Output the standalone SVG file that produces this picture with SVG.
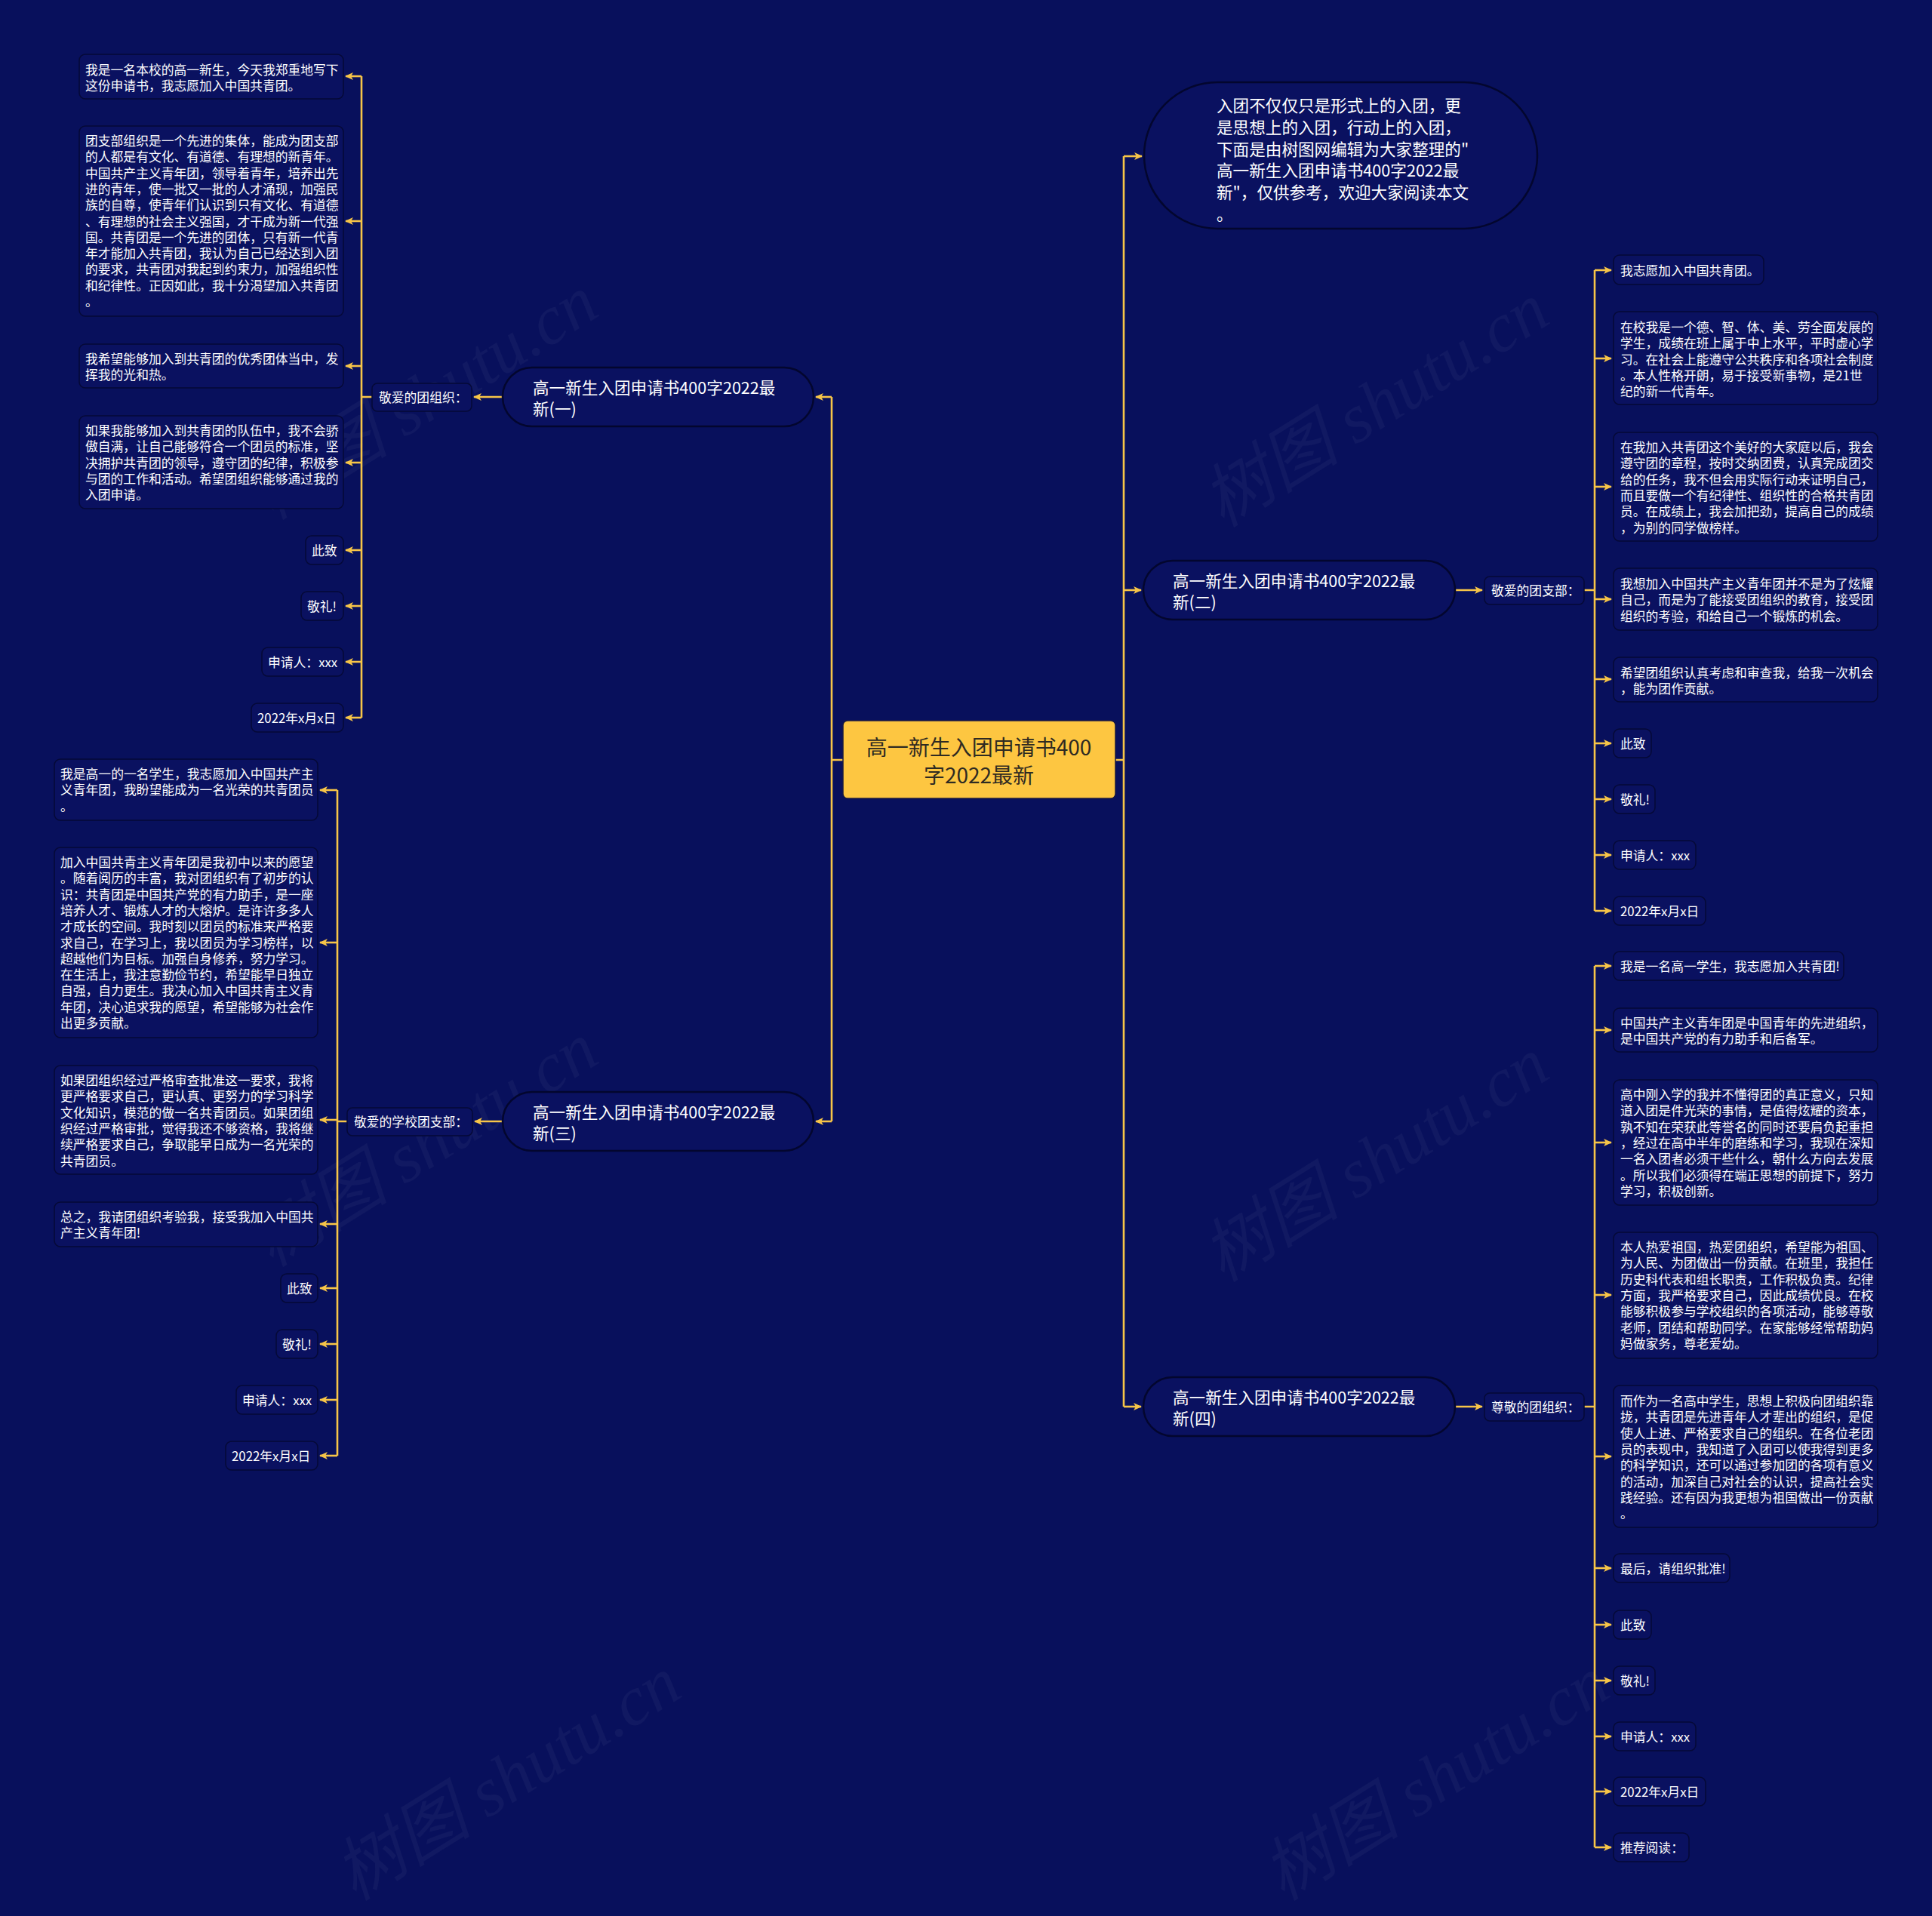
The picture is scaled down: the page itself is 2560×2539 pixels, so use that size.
<svg xmlns="http://www.w3.org/2000/svg" width="2560" height="2539" viewBox="0 0 2560 2539">
<defs>
<marker id="arr" viewBox="0 0 10 10" refX="9" refY="5" markerWidth="11" markerHeight="11" markerUnits="userSpaceOnUse" orient="auto"><path d="M0,0.5 L10,5 L0,9.5 L2.5,5 z" fill="#f7c548"/></marker>
<style>
text{font-family:"Noto Sans CJK SC","Microsoft YaHei",sans-serif;dominant-baseline:central;}
.bx{fill:#0a1160;stroke:#050936;stroke-width:1.5;}
.pill{fill:#0a1160;stroke:#03062e;stroke-width:2.5;}
.t{font-size:16.8px;fill:#ffffff;}
.tp{font-size:21.6px;fill:#ffffff;}
.tc{font-size:28px;fill:#2e2a22;text-anchor:middle;}
.ln{fill:none;stroke:#f7c548;stroke-width:2.6;}
.a{marker-end:url(#arr);}
.wm{font-family:"Liberation Serif","Noto Sans CJK SC",serif;font-size:92px;font-style:italic;fill:#ffffff;fill-opacity:0.04;dominant-baseline:auto;}
</style>
</defs>
<rect x="0" y="0" width="2560" height="2539" fill="#08105c"/>
<g id="watermarks">
<text class="wm" transform="translate(360,690) rotate(-32)">树图 shutu.cn</text>
<text class="wm" transform="translate(1620,700) rotate(-32)">树图 shutu.cn</text>
<text class="wm" transform="translate(360,1680) rotate(-32)">树图 shutu.cn</text>
<text class="wm" transform="translate(1620,1700) rotate(-32)">树图 shutu.cn</text>
<text class="wm" transform="translate(470,2520) rotate(-32)">树图 shutu.cn</text>
<text class="wm" transform="translate(1700,2520) rotate(-32)">树图 shutu.cn</text>
</g>
<g id="connectors">
<path class="ln" d="M1117,1007 H1102 M1102,526 V1486 M1478,1007 H1489 M1489,207 V1864"/>
<path class="ln a" d="M1102,526 H1081"/>
<path class="ln a" d="M1102,1486 H1081"/>
<path class="ln a" d="M1489,207 H1513"/>
<path class="ln a" d="M1489,782 H1512"/>
<path class="ln a" d="M1489,1864 H1512"/>
<path class="ln a" d="M666,526 H628"/>
<path class="ln" d="M493,526 H479 M479,101 V951"/>
<path class="ln a" d="M479,101 H458"/>
<path class="ln a" d="M479,293 H458"/>
<path class="ln a" d="M479,485 H458"/>
<path class="ln a" d="M479,613 H458"/>
<path class="ln a" d="M479,729 H458"/>
<path class="ln a" d="M479,803 H458"/>
<path class="ln a" d="M479,877 H458"/>
<path class="ln a" d="M479,951 H458"/>
<path class="ln a" d="M666,1486 H629"/>
<path class="ln" d="M460,1486 H447 M447,1047 V1929"/>
<path class="ln a" d="M447,1047 H424"/>
<path class="ln a" d="M447,1249 H424"/>
<path class="ln a" d="M447,1484 H424"/>
<path class="ln a" d="M447,1622 H424"/>
<path class="ln a" d="M447,1707 H424"/>
<path class="ln a" d="M447,1781 H424"/>
<path class="ln a" d="M447,1855 H424"/>
<path class="ln a" d="M447,1929 H424"/>
<path class="ln a" d="M1928,782 H1964"/>
<path class="ln" d="M2099,782 H2113 M2113,358 V1207"/>
<path class="ln a" d="M2113,358 H2135"/>
<path class="ln a" d="M2113,475 H2135"/>
<path class="ln a" d="M2113,645 H2135"/>
<path class="ln a" d="M2113,794 H2135"/>
<path class="ln a" d="M2113,900 H2135"/>
<path class="ln a" d="M2113,985 H2135"/>
<path class="ln a" d="M2113,1059 H2135"/>
<path class="ln a" d="M2113,1133 H2135"/>
<path class="ln a" d="M2113,1207 H2135"/>
<path class="ln a" d="M1928,1864 H1964"/>
<path class="ln" d="M2099,1864 H2113 M2113,1280 V2448"/>
<path class="ln a" d="M2113,1280 H2135"/>
<path class="ln a" d="M2113,1365 H2135"/>
<path class="ln a" d="M2113,1514 H2135"/>
<path class="ln a" d="M2113,1716 H2135"/>
<path class="ln a" d="M2113,1930 H2135"/>
<path class="ln a" d="M2113,2078 H2135"/>
<path class="ln a" d="M2113,2153 H2135"/>
<path class="ln a" d="M2113,2227 H2135"/>
<path class="ln a" d="M2113,2301 H2135"/>
<path class="ln a" d="M2113,2374 H2135"/>
<path class="ln a" d="M2113,2448 H2135"/>
</g>
<g id="root">
<rect x="1117" y="955" width="361" height="103" rx="6" fill="#fdc641" stroke="#1a1a40" stroke-width="1.5"/>
<text class="tc"><tspan x="1297" y="989">高一新生入团申请书400</tspan><tspan x="1297" y="1026">字2022最新</tspan></text>
</g>
<g id="intro">
<rect class="pill" x="1516" y="109" width="521" height="194" rx="97"/>
<text class="tp"><tspan x="1612" y="138">入团不仅仅只是形式上的入团，更</tspan><tspan x="1612" y="167">是思想上的入团，行动上的入团，</tspan><tspan x="1612" y="196">下面是由树图网编辑为大家整理的"</tspan><tspan x="1612" y="224">高一新生入团申请书400字2022最</tspan><tspan x="1612" y="253">新"，仅供参考，欢迎大家阅读本文</tspan><tspan x="1612" y="282">。</tspan></text>
</g>
<g id="b1">
<rect class="pill" x="666" y="487" width="412" height="78" rx="39"/>
<text class="tp"><tspan x="706" y="512">高一新生入团申请书400字2022最</tspan><tspan x="706" y="540">新(一)</tspan></text>
</g>
<g id="b1-label"><rect class="bx" x="493" y="508" width="132" height="37" rx="7"/><text class="t" x="502" y="526">敬爱的团组织：</text></g>
<g id="b1-1"><rect class="bx" x="105" y="72" width="350" height="59" rx="8"/><text class="t"><tspan x="113" y="92">我是一名本校的高一新生，今天我郑重地写下</tspan><tspan x="113" y="113">这份申请书，我志愿加入中国共青团。</tspan></text></g>
<g id="b1-2"><rect class="bx" x="105" y="167" width="350" height="252" rx="8"/><text class="t"><tspan x="113" y="186">团支部组织是一个先进的集体，能成为团支部</tspan><tspan x="113" y="207.3">的人都是有文化、有道德、有理想的新青年。</tspan><tspan x="113" y="228.6">中国共产主义青年团，领导着青年，培养出先</tspan><tspan x="113" y="249.9">进的青年，使一批又一批的人才涌现，加强民</tspan><tspan x="113" y="271.2">族的自尊，使青年们认识到只有文化、有道德</tspan><tspan x="113" y="292.5">、有理想的社会主义强国，才干成为新一代强</tspan><tspan x="113" y="313.8">国。共青团是一个先进的团体，只有新一代青</tspan><tspan x="113" y="335.1">年才能加入共青团，我认为自己已经达到入团</tspan><tspan x="113" y="356.4">的要求，共青团对我起到约束力，加强组织性</tspan><tspan x="113" y="377.7">和纪律性。正因如此，我十分渴望加入共青团</tspan><tspan x="113" y="399">。</tspan></text></g>
<g id="b1-3"><rect class="bx" x="105" y="456" width="350" height="58" rx="8"/><text class="t"><tspan x="113" y="475">我希望能够加入到共青团的优秀团体当中，发</tspan><tspan x="113" y="496">挥我的光和热。</tspan></text></g>
<g id="b1-4"><rect class="bx" x="105" y="551" width="350" height="123" rx="8"/><text class="t"><tspan x="113" y="570">如果我能够加入到共青团的队伍中，我不会骄</tspan><tspan x="113" y="591.3">傲自满，让自己能够符合一个团员的标准，坚</tspan><tspan x="113" y="612.6">决拥护共青团的领导，遵守团的纪律，积极参</tspan><tspan x="113" y="633.9">与团的工作和活动。希望团组织能够通过我的</tspan><tspan x="113" y="655.2">入团申请。</tspan></text></g>
<g id="b1-5"><rect class="bx" x="405" y="710" width="50" height="38" rx="8"/><text class="t" x="413" y="729">此致</text></g>
<g id="b1-6"><rect class="bx" x="399" y="784" width="56" height="38" rx="8"/><text class="t" x="407" y="803">敬礼!</text></g>
<g id="b1-7"><rect class="bx" x="347" y="858" width="108" height="38" rx="8"/><text class="t" x="355" y="877">申请人：xxx</text></g>
<g id="b1-8"><rect class="bx" x="333" y="932" width="122" height="38" rx="8"/><text class="t" x="341" y="951">2022年x月x日</text></g>
<g id="b3">
<rect class="pill" x="666" y="1447" width="412" height="78" rx="39"/>
<text class="tp"><tspan x="706" y="1472">高一新生入团申请书400字2022最</tspan><tspan x="706" y="1500">新(三)</tspan></text>
</g>
<g id="b3-label"><rect class="bx" x="460" y="1468" width="166" height="37" rx="7"/><text class="t" x="469" y="1486">敬爱的学校团支部：</text></g>
<g id="b3-1"><rect class="bx" x="72" y="1006" width="349" height="81" rx="8"/><text class="t"><tspan x="80" y="1025">我是高一的一名学生，我志愿加入中国共产主</tspan><tspan x="80" y="1046.3">义青年团，我盼望能成为一名光荣的共青团员</tspan><tspan x="80" y="1067.6">。</tspan></text></g>
<g id="b3-2"><rect class="bx" x="72" y="1123" width="349" height="252" rx="8"/><text class="t"><tspan x="80" y="1142">加入中国共青主义青年团是我初中以来的愿望</tspan><tspan x="80" y="1163.3">。随着阅历的丰富，我对团组织有了初步的认</tspan><tspan x="80" y="1184.6">识：共青团是中国共产党的有力助手，是一座</tspan><tspan x="80" y="1205.9">培养人才、锻炼人才的大熔炉。是许许多多人</tspan><tspan x="80" y="1227.2">才成长的空间。我时刻以团员的标准来严格要</tspan><tspan x="80" y="1248.5">求自己，在学习上，我以团员为学习榜样，以</tspan><tspan x="80" y="1269.8">超越他们为目标。加强自身修养，努力学习。</tspan><tspan x="80" y="1291.1">在生活上，我注意勤俭节约，希望能早日独立</tspan><tspan x="80" y="1312.4">自强，自力更生。我决心加入中国共青主义青</tspan><tspan x="80" y="1333.7">年团，决心追求我的愿望，希望能够为社会作</tspan><tspan x="80" y="1355">出更多贡献。</tspan></text></g>
<g id="b3-3"><rect class="bx" x="72" y="1412" width="349" height="144" rx="8"/><text class="t"><tspan x="80" y="1431">如果团组织经过严格审查批准这一要求，我将</tspan><tspan x="80" y="1452.3">更严格要求自己，更认真、更努力的学习科学</tspan><tspan x="80" y="1473.6">文化知识，模范的做一名共青团员。如果团组</tspan><tspan x="80" y="1494.9">织经过严格审批，觉得我还不够资格，我将继</tspan><tspan x="80" y="1516.2">续严格要求自己，争取能早日成为一名光荣的</tspan><tspan x="80" y="1537.5">共青团员。</tspan></text></g>
<g id="b3-4"><rect class="bx" x="72" y="1593" width="349" height="59" rx="8"/><text class="t"><tspan x="80" y="1612">总之，我请团组织考验我，接受我加入中国共</tspan><tspan x="80" y="1633.3">产主义青年团!</tspan></text></g>
<g id="b3-5"><rect class="bx" x="372" y="1688" width="49" height="38" rx="8"/><text class="t" x="380" y="1707">此致</text></g>
<g id="b3-6"><rect class="bx" x="366" y="1762" width="55" height="38" rx="8"/><text class="t" x="374" y="1781">敬礼!</text></g>
<g id="b3-7"><rect class="bx" x="313" y="1836" width="108" height="38" rx="8"/><text class="t" x="321" y="1855">申请人：xxx</text></g>
<g id="b3-8"><rect class="bx" x="299" y="1910" width="122" height="38" rx="8"/><text class="t" x="307" y="1929">2022年x月x日</text></g>
<g id="b2">
<rect class="pill" x="1515" y="743" width="413" height="78" rx="39"/>
<text class="tp"><tspan x="1554" y="768">高一新生入团申请书400字2022最</tspan><tspan x="1554" y="796">新(二)</tspan></text>
</g>
<g id="b2-label"><rect class="bx" x="1967" y="764" width="132" height="37" rx="7"/><text class="t" x="1976" y="782">敬爱的团支部：</text></g>
<g id="b2-1"><rect class="bx" x="2138" y="338" width="199" height="39" rx="8"/><text class="t" x="2147" y="358">我志愿加入中国共青团。</text></g>
<g id="b2-2"><rect class="bx" x="2138" y="413" width="350" height="123" rx="8"/><text class="t"><tspan x="2147" y="433">在校我是一个德、智、体、美、劳全面发展的</tspan><tspan x="2147" y="454.3">学生，成绩在班上属于中上水平，平时虚心学</tspan><tspan x="2147" y="475.6">习。在社会上能遵守公共秩序和各项社会制度</tspan><tspan x="2147" y="496.9">。本人性格开朗，易于接受新事物，是21世</tspan><tspan x="2147" y="518.2">纪的新一代青年。</tspan></text></g>
<g id="b2-3"><rect class="bx" x="2138" y="573" width="350" height="144" rx="8"/><text class="t"><tspan x="2147" y="592">在我加入共青团这个美好的大家庭以后，我会</tspan><tspan x="2147" y="613.3">遵守团的章程，按时交纳团费，认真完成团交</tspan><tspan x="2147" y="634.6">给的任务，我不但会用实际行动来证明自己，</tspan><tspan x="2147" y="655.9">而且要做一个有纪律性、组织性的合格共青团</tspan><tspan x="2147" y="677.2">员。在成绩上，我会加把劲，提高自己的成绩</tspan><tspan x="2147" y="698.5">，为别的同学做榜样。</tspan></text></g>
<g id="b2-4"><rect class="bx" x="2138" y="753" width="350" height="82" rx="8"/><text class="t"><tspan x="2147" y="773">我想加入中国共产主义青年团并不是为了炫耀</tspan><tspan x="2147" y="794.3">自己，而是为了能接受团组织的教育，接受团</tspan><tspan x="2147" y="815.6">组织的考验，和给自己一个锻炼的机会。</tspan></text></g>
<g id="b2-5"><rect class="bx" x="2138" y="871" width="350" height="59" rx="8"/><text class="t"><tspan x="2147" y="891">希望团组织认真考虑和审查我，给我一次机会</tspan><tspan x="2147" y="912.3">，能为团作贡献。</tspan></text></g>
<g id="b2-6"><rect class="bx" x="2138" y="966" width="50" height="38" rx="8"/><text class="t" x="2147" y="985">此致</text></g>
<g id="b2-7"><rect class="bx" x="2138" y="1040" width="55" height="38" rx="8"/><text class="t" x="2147" y="1059">敬礼!</text></g>
<g id="b2-8"><rect class="bx" x="2138" y="1114" width="109" height="38" rx="8"/><text class="t" x="2147" y="1133">申请人：xxx</text></g>
<g id="b2-9"><rect class="bx" x="2138" y="1188" width="122" height="38" rx="8"/><text class="t" x="2147" y="1207">2022年x月x日</text></g>
<g id="b4">
<rect class="pill" x="1515" y="1825" width="413" height="78" rx="39"/>
<text class="tp"><tspan x="1554" y="1850">高一新生入团申请书400字2022最</tspan><tspan x="1554" y="1878">新(四)</tspan></text>
</g>
<g id="b4-label"><rect class="bx" x="1967" y="1846" width="132" height="37" rx="7"/><text class="t" x="1976" y="1864">尊敬的团组织：</text></g>
<g id="b4-1"><rect class="bx" x="2138" y="1261" width="305" height="38" rx="8"/><text class="t" x="2147" y="1280">我是一名高一学生，我志愿加入共青团!</text></g>
<g id="b4-2"><rect class="bx" x="2138" y="1336" width="350" height="58" rx="8"/><text class="t"><tspan x="2147" y="1355">中国共产主义青年团是中国青年的先进组织，</tspan><tspan x="2147" y="1376.3">是中国共产党的有力助手和后备军。</tspan></text></g>
<g id="b4-3"><rect class="bx" x="2138" y="1431" width="350" height="166" rx="8"/><text class="t"><tspan x="2147" y="1450">高中刚入学的我并不懂得团的真正意义，只知</tspan><tspan x="2147" y="1471.3">道入团是件光荣的事情，是值得炫耀的资本，</tspan><tspan x="2147" y="1492.6">孰不知在荣获此等誉名的同时还要肩负起重担</tspan><tspan x="2147" y="1513.9">，经过在高中半年的磨练和学习，我现在深知</tspan><tspan x="2147" y="1535.2">一名入团者必须干些什么，朝什么方向去发展</tspan><tspan x="2147" y="1556.5">。所以我们必须得在端正思想的前提下，努力</tspan><tspan x="2147" y="1577.8">学习，积极创新。</tspan></text></g>
<g id="b4-4"><rect class="bx" x="2138" y="1633" width="350" height="167" rx="8"/><text class="t"><tspan x="2147" y="1652">本人热爱祖国，热爱团组织，希望能为祖国、</tspan><tspan x="2147" y="1673.3">为人民、为团做出一份贡献。在班里，我担任</tspan><tspan x="2147" y="1694.6">历史科代表和组长职责，工作积极负责。纪律</tspan><tspan x="2147" y="1715.9">方面，我严格要求自己，因此成绩优良。在校</tspan><tspan x="2147" y="1737.2">能够积极参与学校组织的各项活动，能够尊敬</tspan><tspan x="2147" y="1758.5">老师，团结和帮助同学。在家能够经常帮助妈</tspan><tspan x="2147" y="1779.8">妈做家务，尊老爱幼。</tspan></text></g>
<g id="b4-5"><rect class="bx" x="2138" y="1836" width="350" height="188" rx="8"/><text class="t"><tspan x="2147" y="1856">而作为一名高中学生，思想上积极向团组织靠</tspan><tspan x="2147" y="1877.3">拢，共青团是先进青年人才辈出的组织，是促</tspan><tspan x="2147" y="1898.6">使人上进、严格要求自己的组织。在各位老团</tspan><tspan x="2147" y="1919.9">员的表现中，我知道了入团可以使我得到更多</tspan><tspan x="2147" y="1941.2">的科学知识，还可以通过参加团的各项有意义</tspan><tspan x="2147" y="1962.5">的活动，加深自己对社会的认识，提高社会实</tspan><tspan x="2147" y="1983.8">践经验。还有因为我更想为祖国做出一份贡献</tspan><tspan x="2147" y="2005.1">。</tspan></text></g>
<g id="b4-6"><rect class="bx" x="2138" y="2059" width="154" height="38" rx="8"/><text class="t" x="2147" y="2078">最后，请组织批准!</text></g>
<g id="b4-7"><rect class="bx" x="2138" y="2134" width="50" height="38" rx="8"/><text class="t" x="2147" y="2153">此致</text></g>
<g id="b4-8"><rect class="bx" x="2138" y="2208" width="55" height="38" rx="8"/><text class="t" x="2147" y="2227">敬礼!</text></g>
<g id="b4-9"><rect class="bx" x="2138" y="2282" width="109" height="38" rx="8"/><text class="t" x="2147" y="2301">申请人：xxx</text></g>
<g id="b4-10"><rect class="bx" x="2138" y="2355" width="122" height="38" rx="8"/><text class="t" x="2147" y="2374">2022年x月x日</text></g>
<g id="b4-11"><rect class="bx" x="2138" y="2429" width="100" height="38" rx="8"/><text class="t" x="2147" y="2448">推荐阅读：</text></g>
</svg>
